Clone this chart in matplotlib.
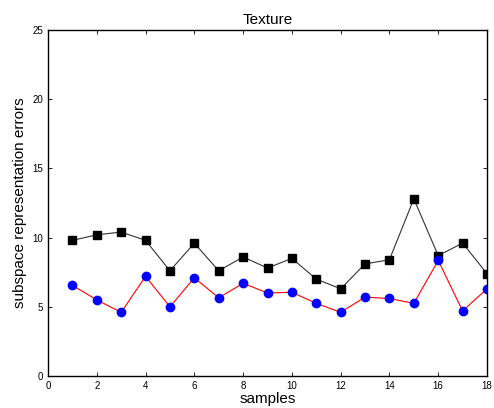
import matplotlib
matplotlib.use("Agg")
import matplotlib.pyplot as plt

samples = list(range(1, 19))
black_vals = [9.8, 10.2, 10.4, 9.8, 7.6, 9.6, 7.6, 8.6, 7.8, 8.5, 7.0, 6.3, 8.1, 8.4, 12.8, 8.7, 9.6, 7.4]
blue_vals = [6.55, 5.5, 4.6, 7.2, 5.0, 7.1, 5.65, 6.7, 6.0, 6.05, 5.25, 4.6, 5.7, 5.6, 5.25, 8.35, 4.7, 6.3]
xticks = list(range(0, 19, 2))
yticks = list(range(0, 26, 5))

plt.rcParams['font.family'] = ['Liberation Sans', 'DejaVu Sans']
fig = plt.figure(figsize=(4.94, 4.08), dpi=100)
ax = fig.add_axes([48/494, 1-376/408, 439/494, 346/408])
ax.plot(samples, black_vals, color='#333333', lw=0.8, marker='s', ms=6,
        markerfacecolor='black', markeredgecolor='black')
ax.plot(samples, blue_vals, color='red', lw=0.8, marker='o', ms=6,
        markerfacecolor='blue', markeredgecolor='blue')
ax.set_xlim(0, 18)
ax.set_ylim(0, 25)
ax.set_xticks(xticks)
ax.set_yticks(yticks)
ax.tick_params(direction='in', top=True, right=True, labelsize=7, length=3, width=0.6)
for s in ax.spines.values():
    s.set_linewidth(1.0)
ax.set_title('Texture', fontsize=11, pad=4)
ax.set_xlabel('samples', fontsize=11, labelpad=1)
ax.set_ylabel('subspace representation errors', fontsize=11, labelpad=4)
fig.savefig('out.png', dpi=100)
